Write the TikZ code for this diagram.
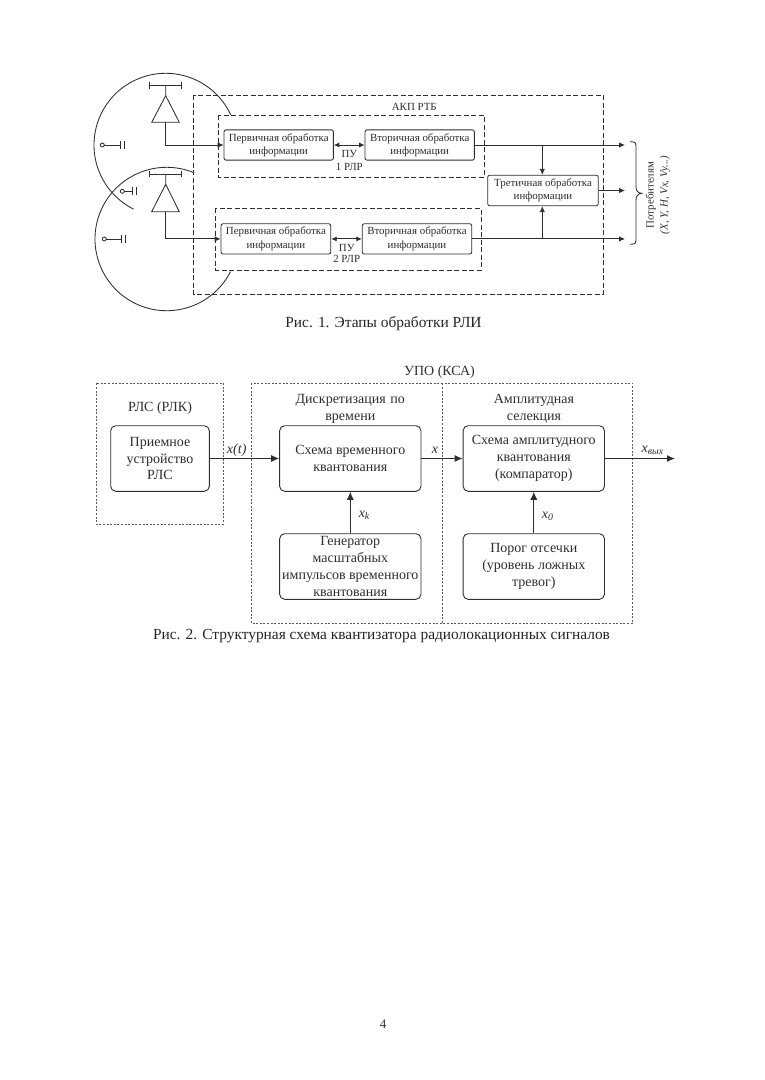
\documentclass[tikz,border=0pt]{standalone}
\usepackage{fontspec}
\setmainfont{Liberation Serif}
\usetikzlibrary{arrows.meta}
\definecolor{ink}{HTML}{2E2E2E}
\tikzset{
 ln/.style={draw=ink,line width=0.85pt},
 arr/.style={ln,-{Latex[length=6pt,width=5.5pt]}},
 arrr/.style={ln,{Latex[length=5.5pt,width=5pt]}-{Latex[length=5.5pt,width=5pt]}},
 arrb/.style={draw=ink,line width=1.1pt,-{Latex[length=8pt,width=7pt]}},
 box/.style={draw=ink,line width=0.85pt,rounded corners=2pt,align=center,inner sep=0pt,text=ink,
   font=\fontsize{10.9}{13.3}\selectfont},
 boxb/.style={draw=ink,line width=0.9pt,rounded corners=5pt,align=center,inner sep=0pt,text=ink,
   font=\fontsize{14}{16.7}\selectfont},
 lab/.style={text=ink,inner sep=0pt,align=center,font=\fontsize{10.9}{13}\selectfont},
 labb/.style={text=ink,inner sep=0pt,align=center,font=\fontsize{14}{16.7}\selectfont},
 captxt/.style={text=ink!80!black,inner sep=0pt,font=\fontsize{15.4}{18}\selectfont},
 dashA/.style={draw=ink,line width=0.8pt,dash pattern=on 5pt off 2.5pt},
 dashB/.style={draw=ink!80,line width=0.7pt,dash pattern=on 2pt off 1.6pt},
}
\begin{document}
\begin{tikzpicture}[x=1pt,y=1pt]
\useasboundingbox[fill=white] (0,0) rectangle (764,-1080);
% circles
\draw[ln] (165.7,-145) ++(24.8:71.7) arc (24.8:243.3:71.7);
\draw[ln] (166.7,-239) ++(67.4:71.7) arc (67.4:333:71.7);
% dashed frames
\draw[dashA] (193.7,-95) rectangle (603.3,-294);
\draw[dashA] (218.3,-115) rectangle (484,-177);
\draw[dashA] (215.7,-208.3) rectangle (481,-270);
% boxes
\node[box,minimum width=109.3pt,minimum height=30.3pt] (p1) at (278.7,-145) {Первичная обработка\\информации};
\node[box,minimum width=109.3pt,minimum height=30.3pt] (v1) at (419.7,-145) {Вторичная обработка\\информации};
\node[box,minimum width=109.7pt,minimum height=30.3pt] (p2) at (275.9,-238.9) {Первичная обработка\\информации};
\node[box,minimum width=109.4pt,minimum height=30.3pt] (v2) at (417,-238.9) {Вторичная обработка\\информации};
\node[box,minimum width=110.6pt,minimum height=30.4pt] (t) at (543,-190.5) {Третичная обработка\\информации};
\node[lab] (akp) at (414.3,-106.7) {АКП РТБ};
\node[lab] (pu1) at (349.3,-154) {ПУ};
\node[lab] (r1) at (349.3,-166.7) {1 РЛР};
\node[lab] (pu2) at (346.7,-247.7) {ПУ};
\node[lab] (r2) at (346.7,-259.3) {2 РЛР};
% antenna 1
\coordinate (a1) at (165.7,-85);
\coordinate (a1t) at (165.7,-95.7);
\coordinate (a1b) at (165.7,-122.3);
\draw[ln] (149.3,-85) -- (181.7,-85);
\draw[ln] (149.3,-81.7) -- (149.3,-89);
\draw[ln] (181.7,-81.7) -- (181.7,-89);
\draw[ln] (a1) -- (a1t) -- (151.7,-122.3) -- (179.3,-122.3) -- (a1t);
\draw[arr] (a1b) |- (p1.west);
% antenna 2
\coordinate (a2) at (165.7,-174);
\coordinate (a2t) at (165.7,-184.3);
\coordinate (a2b) at (165.7,-211.7);
\draw[ln] (149.3,-174) -- (181.7,-174);
\draw[ln] (149.3,-170.7) -- (149.3,-177.3);
\draw[ln] (181.7,-170.7) -- (181.7,-177.3);
\draw[ln] (a2) -- (a2t) -- (151.7,-211.7) -- (179.3,-211.7) -- (a2t);
\draw[arr] (a2b) |- (p2.west);
% switches
\foreach \cx/\cy/\ex/\fx in {102.3/-145/120.7/124.7, 122.3/-191.3/132.7/136, 104.3/-239/121.7/125.7}{
  \draw[ln] (\cx,\cy) circle (2pt);
  \draw[ln] (\cx+2,\cy) -- (\ex,\cy);
  \draw[ln] (\ex,\cy+4) -- (\ex,\cy-4);
  \draw[ln] (\fx,\cy+4) -- (\fx,\cy-4);
}
% connectors
\draw[arrr] (p1) -- (v1);
\draw[arrr] (p2) -- (v2);
\coordinate (o1) at (625,-145);
\coordinate (o2) at (625,-190.5);
\coordinate (o3) at (625,-238.9);
\coordinate (j1) at (542.3,-145);
\coordinate (j2) at (542.3,-238.9);
\draw[arr] (v1) -- (o1);
\draw[arr] (t) -- (o2);
\draw[arr] (v2) -- (o3);
\draw[arr] (j1) -- (j1 |- t.north);
\draw[arr] (j2) -- (j2 |- t.south);
% brace
\draw[ln] (630,-141.7) .. controls (636,-141.7) and (636,-143) .. (636,-148)
  -- (636,-187) .. controls (636,-191) and (638,-193) .. (641.7,-193.3)
  .. controls (638,-193.6) and (636,-196) .. (636,-200)
  -- (636,-238) .. controls (636,-243) and (636,-244.3) .. (630,-244.3);
\node[lab,rotate=90] (cons) at (651,-195) {Потребителям};
\node[lab,rotate=90] (vars) at (665,-195) {\itshape (X, Y, H, Vx, Vy...)};
\node[captxt] (c1) at (383.5,-324) {Рис. 1. Этапы обработки РЛИ};
% ---- figure 2
\draw[dashB] (96,-383.3) rectangle (223.3,-524);
\draw[dashB] (251.3,-383.3) rectangle (632.7,-623.3);
\draw[dashB] (442,-383.3) -- (442,-623.3);
\node[labb] (upo) at (439.5,-372) {УПО (КСА)};
\node[labb] (rls) at (160,-408.3) {РЛС (РЛК)};
\node[labb,text width=170pt] (dis) at (350.3,-409) {Дискретизация по\\времени};
\node[labb,text width=170pt] (amp) at (534,-409) {Амплитудная\\селекция};
\node[boxb,minimum width=98.6pt,minimum height=65.6pt] (rx) at (160,-458.5) {Приемное\\устройство\\РЛС};
\node[boxb,minimum width=141.3pt,minimum height=65.6pt] (tq) at (350.3,-458.5) {Схема временного\\квантования};
\node[boxb,minimum width=141.3pt,minimum height=65.6pt] (aq) at (533.8,-458.5) {Схема амплитудного\\квантования\\(компаратор)};
\node[boxb,minimum width=141.3pt,minimum height=65.6pt] (gen) at (350.3,-566.5) {Генератор\\масштабных\\импульсов временного\\квантования};
\node[boxb,minimum width=141.3pt,minimum height=65.6pt] (thr) at (533.8,-566.5) {Порог отсечки\\(уровень ложных\\тревог)};
\coordinate (out) at (675,-458.5);
\draw[arrb] (rx) -- (tq);
\draw[arrb] (tq) -- (aq);
\draw[arrb] (aq) -- (out);
\draw[arrb] (gen) -- (tq);
\draw[arrb] (thr) -- (aq);
\node[labb] (lxt) at (236.7,-450) {\itshape x(t)};
\node[labb] (lx) at (435,-450) {\itshape x};
\node[labb] (lxk) at (364.3,-515) {\itshape x\textsubscript{k}};
\node[labb] (lx0) at (547.7,-516) {\itshape x\textsubscript{0}};
\node[labb] (lxo) at (652.7,-450.7) {\itshape x\textsubscript{вых}};
\node[captxt] (c2) at (381.5,-636) {Рис. 2. Структурная схема квантизатора радиолокационных сигналов};
\node[text=ink,inner sep=0pt,font=\fontsize{13}{14}\selectfont] (pg) at (383,-1024) {4};
\end{tikzpicture}
\end{document}
